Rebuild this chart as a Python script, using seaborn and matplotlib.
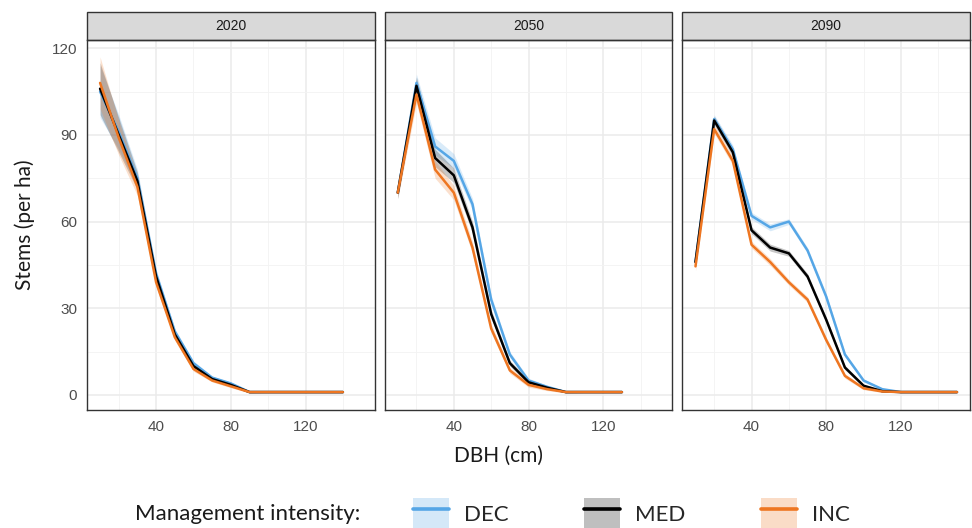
import numpy as np
import pandas as pd
import matplotlib
matplotlib.use("Agg")
import matplotlib.pyplot as plt
from matplotlib.patches import Patch, Rectangle
from matplotlib.lines import Line2D
from matplotlib.legend_handler import HandlerTuple
import seaborn as sns

# --- data ---
YEARS = ["2020", "2050", "2090"]
MGMT = ["DEC", "MED", "INC"]

DBH_2020 = [10, 20, 30, 40, 50, 60, 70, 80, 90, 100, 110, 120, 130, 140]
DEC_2020 = [105, 91, 75, 42, 22, 11, 6, 4, 1, 1, 1, 1, 1, 1]
MED_2020 = [106, 90, 74, 41, 21, 10, 5.5, 3.5, 1, 1, 1, 1, 1, 1]
INC_2020 = [108, 89, 72, 39, 20, 9, 5, 3, 1, 1, 1, 1, 1, 1]
SPREAD_2020 = [9, 6, 3, 1.5, 1, 0.8, 0.5, 0.5, 0.3, 0.2, 0.2, 0.2, 0.2, 0.2]

DBH_2050 = [10, 20, 30, 40, 50, 60, 70, 80, 90, 100, 110, 120, 130]
DEC_2050 = [70, 108, 86, 81, 66, 33, 14, 5, 2.8, 1, 1, 1, 1]
MED_2050 = [70, 107, 82, 76, 58, 28, 11, 4.4, 2.5, 1, 1, 1, 1]
INC_2050 = [70, 104, 78, 70, 51, 23, 8.5, 3.5, 2, 1, 1, 1, 1]
SPREAD_2050 = [2, 3, 3, 2.5, 2, 1.5, 1, 0.8, 0.5, 0.3, 0.2, 0.2, 0.2]

DBH_2090 = [10, 20, 30, 40, 50, 60, 70, 80, 90, 100, 110, 120, 130, 140, 150]
DEC_2090 = [46, 95.5, 85, 62, 58, 60, 50, 34, 14, 5, 2, 1, 1, 1, 1]
MED_2090 = [46, 95, 84, 57, 51, 49, 41, 26, 9.5, 3.2, 1.3, 1, 1, 1, 1]
INC_2090 = [44.5, 92, 81, 52, 46, 39, 33, 19, 6.6, 2.3, 1.2, 1, 1, 1, 1]
SPREAD_2090 = [1.5, 1.5, 1.5, 1.2, 1.2, 1, 1, 1, 0.8, 0.5, 0.3, 0.2, 0.2, 0.2, 0.2]

COLORS = {"DEC": "#55A6E6", "MED": "#000000", "INC": "#EE7621"}

# --- long-form table: lower / mid / upper row per point ---
series = {
    "2020": (DBH_2020, [DEC_2020, MED_2020, INC_2020], SPREAD_2020),
    "2050": (DBH_2050, [DEC_2050, MED_2050, INC_2050], SPREAD_2050),
    "2090": (DBH_2090, [DEC_2090, MED_2090, INC_2090], SPREAD_2090),
}
rows = []
for year, (dbh, vals, spread) in series.items():
    for m, v in zip(MGMT, vals):
        for x, y, s in zip(dbh, v, spread):
            for k in (-1, 0, 1):
                rows.append({"year": year, "mgmt": m, "dbh": x, "stems": y + k * s})
df = pd.DataFrame(rows)

# --- plot ---
sns.set_style("white")
plt.rcParams["font.family"] = ["Liberation Sans", "DejaVu Sans"]

g = sns.relplot(data=df, x="dbh", y="stems", hue="mgmt", hue_order=MGMT,
                col="year", col_order=YEARS, kind="line", palette=COLORS,
                estimator="median", errorbar=("pi", 100), linewidth=1.8,
                err_kws={"alpha": 0.22, "linewidth": 0}, legend=False,
                height=4, aspect=0.8, facet_kws={"sharex": True, "sharey": True})
fig = g.figure
fig.set_size_inches(9.72, 5.28)
fig.subplots_adjust(left=0.0895, right=0.998, bottom=0.2235, top=0.924, wspace=0.035)

for ax, year in zip(g.axes.flat, YEARS):
    ax.set_xlim(3, 157)
    ax.set_ylim(-5.2, 122.8)
    ax.set_xticks([40, 80, 120])
    ax.set_xticks([20, 60, 100, 140], minor=True)
    ax.set_yticks([0, 30, 60, 90, 120])
    ax.set_yticks([15, 45, 75, 105], minor=True)
    ax.grid(True, which="major", color="#EBEBEB", linewidth=1.1)
    ax.grid(True, which="minor", color="#F3F3F3", linewidth=0.6)
    ax.set_axisbelow(True)
    for sp in ax.spines.values():
        sp.set_visible(True)
        sp.set_color("#333333")
        sp.set_linewidth(1.0)
    ax.tick_params(axis="both", which="major", direction="out", length=3.5,
                   width=1.0, color="#333333", labelsize=11, labelcolor="#4D4D4D")
    ax.tick_params(axis="both", which="minor", length=0)
    ax.set_title("")
    ax.set_xlabel("")
    ax.set_ylabel("")
    # strip on top
    ax.add_patch(Rectangle((0, 1), 1, 28 / 370, transform=ax.transAxes,
                           facecolor="#D9D9D9", edgecolor="#333333", linewidth=1.0,
                           clip_on=False))
    ax.text(0.5, 1 + 14 / 370, year, transform=ax.transAxes, ha="center",
            va="center", fontsize=10, color="#1A1A1A")

fig.text(25 / 972, 1 - 225 / 528, "Stems (per ha)", rotation=90, ha="center",
         va="center", fontsize=15, family=["Lato", "DejaVu Sans"], color="#1A1A1A")
fig.text(498 / 972, 1 - 456 / 528, "DBH (cm)", ha="center", va="center",
         fontsize=15, family=["Lato", "DejaVu Sans"], color="#1A1A1A")

# --- legend ---
fig.text(135 / 972, 1 - 514 / 528, "Management intensity:", ha="left", va="center",
         fontsize=16, family=["Lato", "DejaVu Sans"], color="#1A1A1A")
handles = [(Patch(facecolor=COLORS[m], alpha=0.25, edgecolor="none"),
            Line2D([], [], color=COLORS[m], linewidth=2.6)) for m in MGMT]
fig.legend(handles, MGMT, handler_map={tuple: HandlerTuple(ndivide=1)},
           loc="center left", bbox_to_anchor=(413 / 972, 1 - 514 / 528),
           ncol=3, frameon=False, borderpad=0, borderaxespad=0,
           handlelength=1.6, handleheight=1.9, handletextpad=0.7,
           columnspacing=3.4, prop={"family": ["Lato", "DejaVu Sans"], "size": 16})

fig.savefig("out.png", dpi=100)
